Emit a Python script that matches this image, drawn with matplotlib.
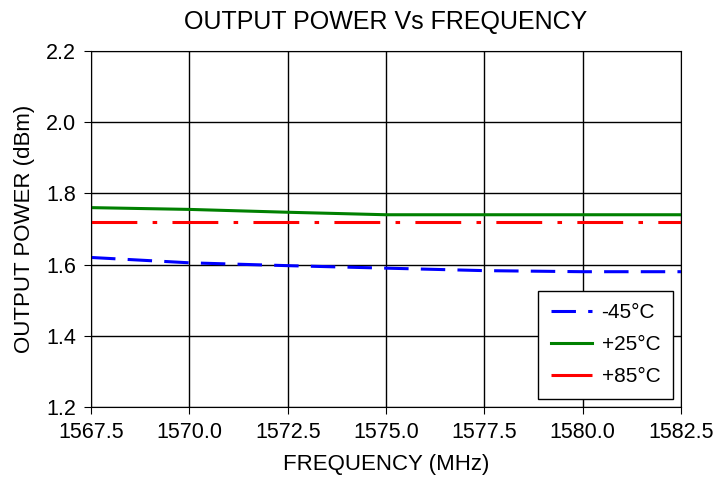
import matplotlib
matplotlib.use("Agg")
import matplotlib.pyplot as plt

freq = [1567.5, 1570.0, 1572.5, 1575.0, 1577.5, 1580.0, 1582.5]
p_m45 = [1.620, 1.605, 1.597, 1.590, 1.583, 1.580, 1.580]
p_p25 = [1.760, 1.755, 1.747, 1.740, 1.740, 1.740, 1.740]
p_p85 = [1.720, 1.720, 1.720, 1.720, 1.720, 1.720, 1.720]
yticks = [1.2, 1.4, 1.6, 1.8, 2.0, 2.2]

plt.rcParams['font.family'] = ['Liberation Sans', 'DejaVu Sans']

fig = plt.figure(figsize=(7.14, 4.87), dpi=100)
ax = fig.add_axes([0.1275, 0.1643, 0.8265, 0.731])

ax.plot(freq, p_m45, color='#0000ff', lw=2.2, dashes=(8, 4), label='-45°C')
ax.plot(freq, p_p25, color='#008000', lw=2.2, label='+25°C')
ax.plot(freq, p_p85, color='#ff0000', lw=2.2, dashes=(15, 5, 1.5, 5), label='+85°C')

ax.set_xlim(1567.5, 1582.5)
ax.set_ylim(1.2, 2.2)
ax.set_xticks(freq)
ax.set_xticklabels([f'{f:.1f}' for f in freq])
ax.set_yticks(yticks)
ax.set_yticklabels([f'{y:.1f}' for y in yticks])
ax.grid(True, color='black', lw=1)
ax.tick_params(labelsize=15.5, length=5, direction='out', color='black', pad=6)
for s in ax.spines.values():
    s.set_color('black')

ax.set_title('OUTPUT POWER Vs FREQUENCY', fontsize=18, pad=16)
ax.set_xlabel('FREQUENCY (MHz)', fontsize=16, labelpad=8)
ax.set_ylabel('OUTPUT POWER (dBm)', fontsize=16, labelpad=8)

leg = ax.legend(loc='lower right', fontsize=15, fancybox=False, framealpha=1,
                edgecolor='black', handlelength=2.0, handletextpad=0.45,
                labelspacing=0.62, borderpad=0.6, borderaxespad=0.4)
leg.get_frame().set_linewidth(1)

fig.savefig('out.png', dpi=100)
